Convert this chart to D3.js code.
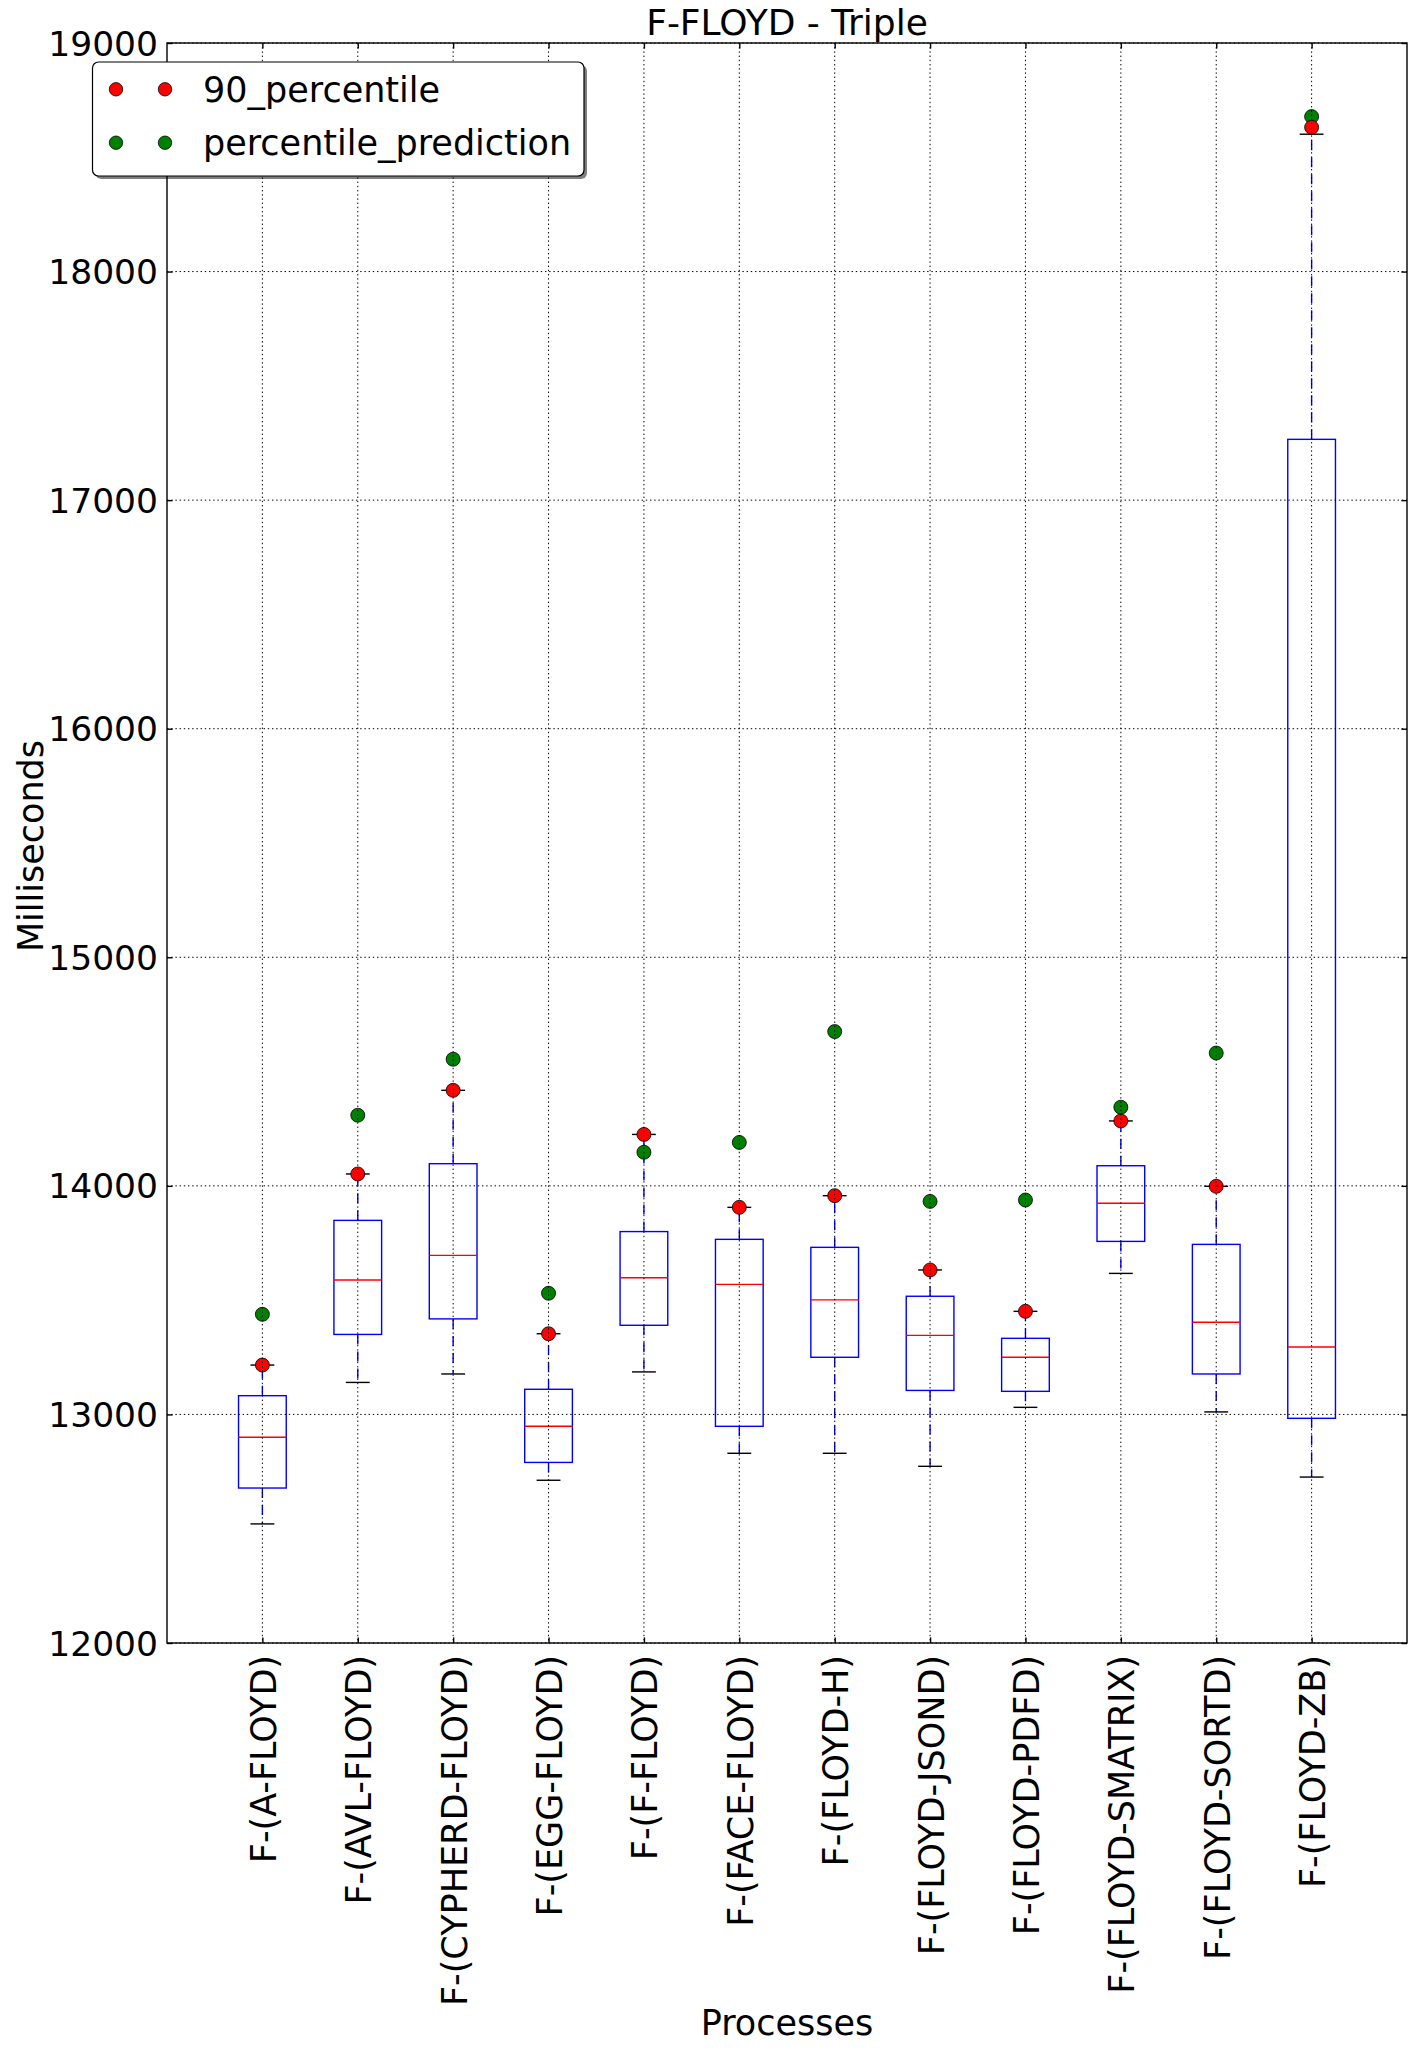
<!DOCTYPE html>
<html>
<head>
<meta charset="utf-8">
<script src="https://cdn.jsdelivr.net/npm/d3@7"></script>
<style>
  html, body { margin: 0; padding: 0; background: #fff; }
  svg { display: block; }
  text { font-family: "DejaVu Sans", sans-serif; fill: #000; }
</style>
</head>
<body>
<svg id="chart" width="1417" height="2052"></svg>
<script>
const categories = ["F-(A-FLOYD)", "F-(AVL-FLOYD)", "F-(CYPHERD-FLOYD)", "F-(EGG-FLOYD)", "F-(F-FLOYD)", "F-(FACE-FLOYD)", "F-(FLOYD-H)", "F-(FLOYD-JSOND)", "F-(FLOYD-PDFD)", "F-(FLOYD-SMATRIX)", "F-(FLOYD-SORTD)", "F-(FLOYD-ZB)"];
const whiskerLow  = [12521, 13140, 13177, 12712, 13186, 12830, 12830, 12773, 13031, 13617, 13011, 12726];
const q1          = [12678, 13350, 13418, 12790, 13390, 12948, 13250, 13105, 13101, 13757, 13177, 12983];
const medians     = [12900, 13588, 13696, 12948, 13598, 13569, 13501, 13346, 13250, 13924, 13403, 13295];
const q3          = [13082, 13849, 14097, 13110, 13800, 13766, 13731, 13517, 13333, 14088, 13744, 17266];
const whiskerHigh = [13216, 14052, 14418, 13353, 14225, 13906, 13957, 13632, 13451, 14284, 13998, 18601];
const percentile90 = [13216, 14052, 14418, 13353, 14225, 13906, 13957, 13632, 13451, 14284, 13998, 18631];
const percentilePrediction = [13438, 14309, 14554, 13530, 14147, 14190, 14675, 13932, 13938, 14344, 14581, 18678];
const yTicks = [12000, 13000, 14000, 15000, 16000, 17000, 18000, 19000];
const legendLabels = ["90_percentile", "percentile_prediction"];
const legendColors = ["#ff0000", "#008000"];

const W = 1417, H = 2052;
const L = 167, R = 1407, T = 43, B = 1643;
const FS = 35;
const svg = d3.select("#chart");

const x = d3.scaleLinear().domain([0, categories.length + 1]).range([L, R]);
const y = d3.scaleLinear().domain([12000, 19000]).range([B, T]);

const data = categories.map((c, i) => ({
  c, pos: i + 1,
  lo: whiskerLow[i], q1: q1[i], med: medians[i], q3: q3[i], hi: whiskerHigh[i],
  p90: percentile90[i], pred: percentilePrediction[i]
}));

const g = svg.append("g");

// boxes
const bx = g.append("g");
data.forEach(d => {
  const xc = x(d.pos), x0 = x(d.pos - 0.25), x1 = x(d.pos + 0.25);
  const c0 = x(d.pos - 0.125), c1 = x(d.pos + 0.125);
  bx.append("line").attr("x1", xc).attr("x2", xc).attr("y1", y(d.q3)).attr("y2", y(d.hi))
    .attr("stroke", "#0000ff").attr("stroke-width", 1.4).attr("stroke-dasharray", "10,7");
  bx.append("line").attr("x1", xc).attr("x2", xc).attr("y1", y(d.q1)).attr("y2", y(d.lo))
    .attr("stroke", "#0000ff").attr("stroke-width", 1.4).attr("stroke-dasharray", "10,7");
  bx.append("line").attr("x1", c0).attr("x2", c1).attr("y1", y(d.hi)).attr("y2", y(d.hi))
    .attr("stroke", "#000").attr("stroke-width", 1.4);
  bx.append("line").attr("x1", c0).attr("x2", c1).attr("y1", y(d.lo)).attr("y2", y(d.lo))
    .attr("stroke", "#000").attr("stroke-width", 1.4);
  bx.append("rect").attr("x", x0).attr("y", y(d.q3)).attr("width", x1 - x0).attr("height", y(d.q1) - y(d.q3))
    .attr("fill", "none").attr("stroke", "#0000ff").attr("stroke-width", 1.4);
  bx.append("line").attr("x1", x0).attr("x2", x1).attr("y1", y(d.med)).attr("y2", y(d.med))
    .attr("stroke", "#ff0000").attr("stroke-width", 1.4);
});

// points
g.append("g").selectAll("circle").data(data).join("circle")
  .attr("cx", d => x(d.pos)).attr("cy", d => y(d.pred)).attr("r", 7)
  .attr("fill", "#008000").attr("stroke", "#000").attr("stroke-width", 0.8);
g.append("g").selectAll("circle").data(data).join("circle")
  .attr("cx", d => x(d.pos)).attr("cy", d => y(d.p90)).attr("r", 7)
  .attr("fill", "#ff0000").attr("stroke", "#000").attr("stroke-width", 0.8);

// grid (drawn above lines, as in classic matplotlib)
const grid = g.append("g").attr("stroke", "#000").attr("stroke-width", 1).attr("stroke-dasharray", "1.4,2.8");
yTicks.forEach(t => {
  grid.append("line").attr("x1", L).attr("x2", R).attr("y1", y(t)).attr("y2", y(t));
});
data.forEach(d => {
  grid.append("line").attr("x1", x(d.pos)).attr("x2", x(d.pos)).attr("y1", T).attr("y2", B);
});

// frame
svg.append("rect").attr("x", L).attr("y", T).attr("width", R - L).attr("height", B - T)
  .attr("fill", "none").attr("stroke", "#000").attr("stroke-width", 1.4);

// y axis (left and right, ticks inward)
const yAxisL = d3.axisLeft(y).tickValues(yTicks).tickFormat(d3.format("d")).tickSizeInner(-5.6).tickSizeOuter(0).tickPadding(9);
const ya = svg.append("g").attr("transform", `translate(${L},0)`).call(yAxisL);
ya.select(".domain").remove();
ya.selectAll("line").attr("stroke", "#000").attr("stroke-width", 1.4);
ya.selectAll("text").attr("font-size", 34.5).attr("font-family", "DejaVu Sans").attr("dy", "0.35em");
const yAxisR = d3.axisRight(y).tickValues(yTicks).tickFormat("").tickSizeInner(-5.6).tickSizeOuter(0);
const yr = svg.append("g").attr("transform", `translate(${R},0)`).call(yAxisR);
yr.select(".domain").remove();
yr.selectAll("line").attr("stroke", "#000").attr("stroke-width", 1.4);

// x axis ticks (bottom & top inward)
const xTickVals = data.map(d => d.pos);
const xAxisB = d3.axisBottom(x).tickValues(xTickVals).tickFormat("").tickSizeInner(-5.6).tickSizeOuter(0);
const xb = svg.append("g").attr("transform", `translate(0,${B})`).call(xAxisB);
xb.select(".domain").remove();
xb.selectAll("line").attr("stroke", "#000").attr("stroke-width", 1.4);
const xAxisT = d3.axisTop(x).tickValues(xTickVals).tickFormat("").tickSizeInner(-5.6).tickSizeOuter(0);
const xt = svg.append("g").attr("transform", `translate(0,${T})`).call(xAxisT);
xt.select(".domain").remove();
xt.selectAll("line").attr("stroke", "#000").attr("stroke-width", 1.4);

// x tick labels rotated
svg.append("g").selectAll("text").data(data).join("text")
  .attr("transform", d => `translate(${x(d.pos)},1655) rotate(-90)`)
  .attr("text-anchor", "end").attr("y", 13.5)
  .attr("font-size", FS)
  .text(d => d.c);

// axis labels and title
svg.append("text").attr("x", (L + R) / 2).attr("y", 2035).attr("text-anchor", "middle")
  .attr("font-size", FS).text("Processes");
svg.append("text").attr("transform", `translate(43,${(T + B) / 2 + 3}) rotate(-90)`).attr("text-anchor", "middle")
  .attr("font-size", FS).text("Milliseconds");
svg.append("text").attr("x", (L + R) / 2).attr("y", 35).attr("text-anchor", "middle")
  .attr("font-size", 36).text("F-FLOYD - Triple");

// legend
const lg = svg.append("g");
const lx0 = 92.5, ly0 = 62, lw = 491.5, lh = 114;
lg.append("rect").attr("x", lx0 + 3).attr("y", ly0 + 3).attr("width", lw).attr("height", lh)
  .attr("rx", 6).attr("fill", "#000").attr("opacity", 0.5);
lg.append("rect").attr("x", lx0).attr("y", ly0).attr("width", lw).attr("height", lh)
  .attr("rx", 6).attr("fill", "#fff").attr("stroke", "#000").attr("stroke-width", 1.2);
const rowsY = [89.3, 142.7];
legendLabels.forEach((lab, i) => {
  [116, 165].forEach(mx => {
    lg.append("circle").attr("cx", mx).attr("cy", rowsY[i]).attr("r", 6.7)
      .attr("fill", legendColors[i]).attr("stroke", "#000").attr("stroke-width", 0.8);
  });
  lg.append("text").attr("x", 203).attr("y", rowsY[i]).attr("dy", "0.35em")
    .attr("font-size", FS).text(lab);
});
</script>
</body>
</html>
